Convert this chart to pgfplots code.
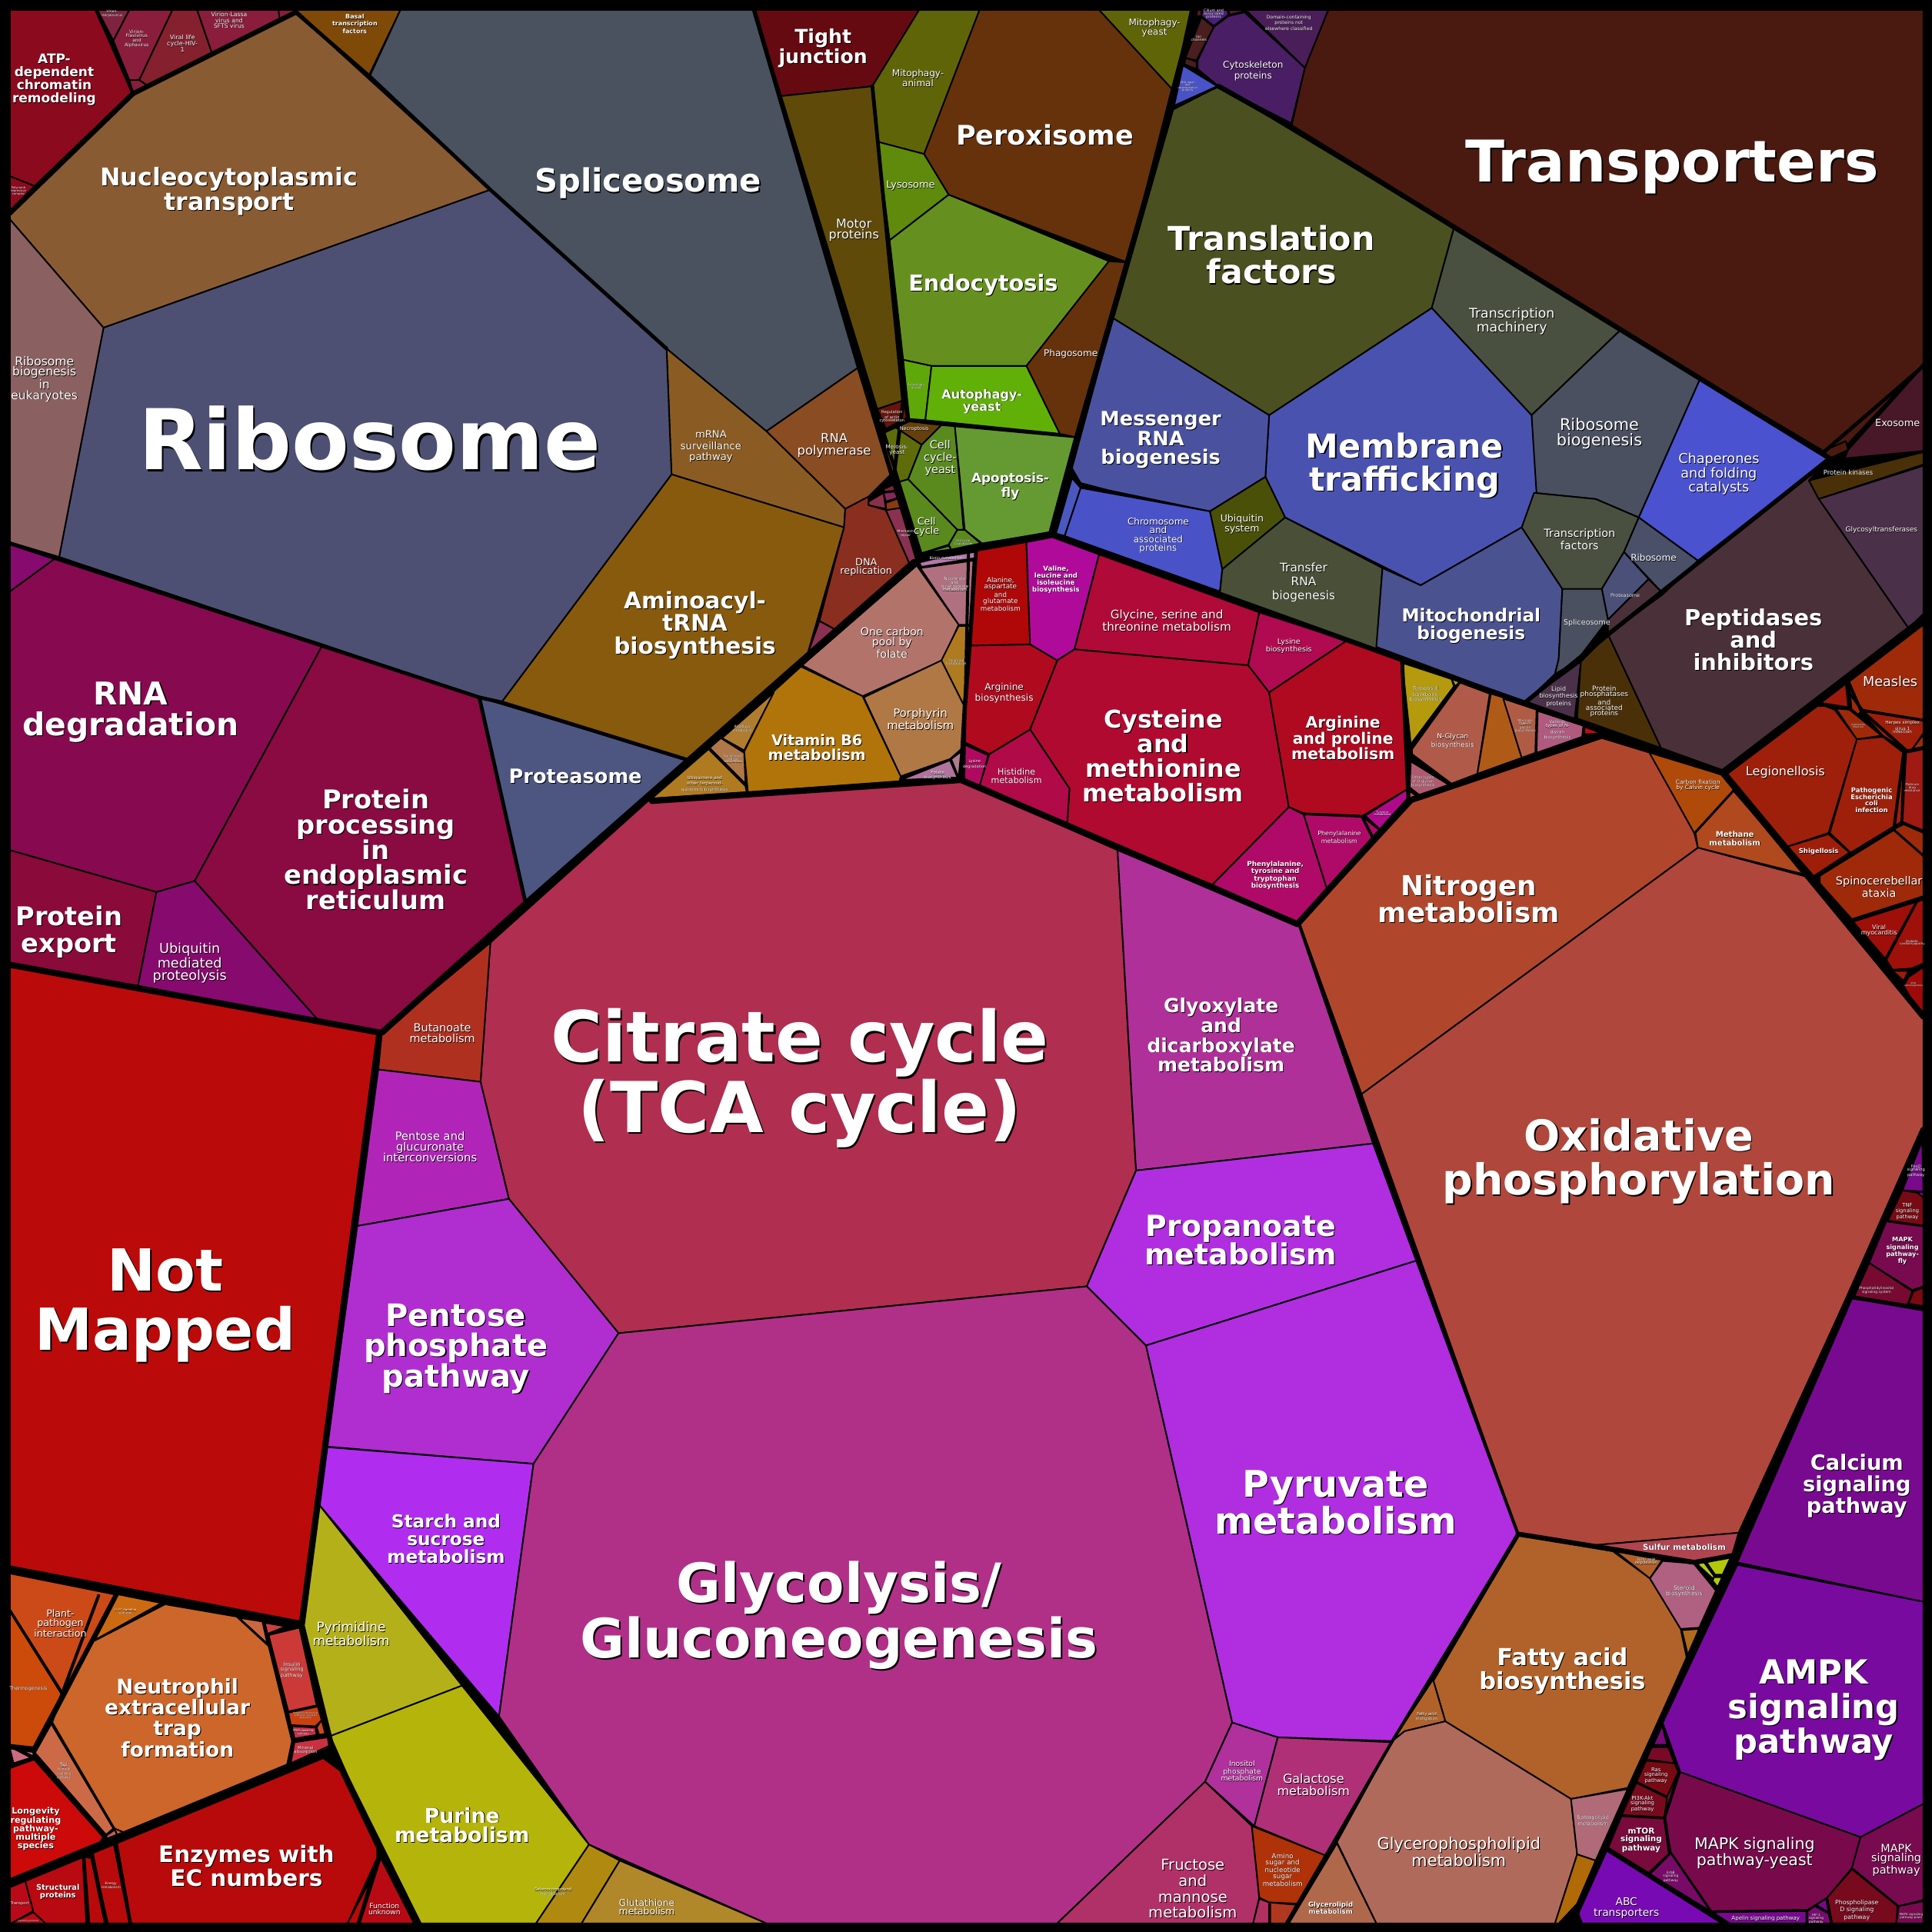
\documentclass[border=0pt]{standalone}
\usepackage{pgfplots}
\pgfplotsset{compat=1.18}
\usepackage{fontspec}
\setmainfont{DejaVu Sans}
\newcommand{\poly}[2]{\xglobal\definecolor{c#1}{HTML}{#1}\addplot[fill=c#1,draw=black,line width=1.2pt,line join=round,mark=none] coordinates {#2} -- cycle;}
\newcommand{\edge}[2]{\addplot[black,line width=#1pt,line join=round,line cap=round,mark=none] coordinates {#2};}
\newcommand{\lab}[5]{%
\node[align=center,inner sep=0pt,text=black,font=\fontsize{#3}{#4}\selectfont\bfseries] at (axis cs:#1,#2) [xshift={#3*0.02pt+0.25pt},yshift={-#3*0.09pt-0.25pt}] {#5};%
\node[align=center,inner sep=0pt,text=white,font=\fontsize{#3}{#4}\selectfont\bfseries] at (axis cs:#1,#2) [yshift={-#3*0.07pt}] {#5};}
\newcommand{\labr}[5]{%
\node[align=center,inner sep=0pt,text=black,font=\fontsize{#3}{#4}\selectfont] at (axis cs:#1,#2) [xshift={#3*0.05pt},yshift={-#3*0.12pt}] {#5};%
\node[align=center,inner sep=0pt,text=white,font=\fontsize{#3}{#4}\selectfont] at (axis cs:#1,#2) [yshift={-#3*0.07pt}] {#5};}
\begin{document}
\begin{tikzpicture}
\begin{axis}[width=1568pt,height=1568pt,scale only axis,hide axis,
  xmin=0,xmax=1568,ymin=0,ymax=1568,y dir=reverse]
\addplot[fill=black,draw=none,mark=none] coordinates {(0,0)(1568,0)(1568,1568)(0,1568)} -- cycle;
% top left
\poly{8C0A1E}{(8,8)(78,8)(108,74)(28,151)(8,143)}
\poly{8C0A1E}{(8,143)(28,151)(8,171)}
\poly{895B33}{(108,76)(240,10)(398,154)(84,266)(8,178)(8,173)}
\poly{7E2440}{(79,8)(105,8)(92,33)}
\poly{8A1D3C}{(105,8)(140,8)(113,65)(105,65)(92,33)}
\poly{85202F}{(140,8)(160,8)(172,43)(119,69)(113,65)}
\poly{8A1D3C}{(160,8)(226,8)(227,15)(172,43)}
\poly{8A1D3C}{(226,8)(239,8)(239,10)(227,15)}
\poly{85203C}{(105,65)(113,65)(119,69)(108,75)}
\poly{7F4A08}{(240,8)(325,8)(299,62)}
\poly{4A5260}{(300,62)(325,8)(612,8)(697,298)(622,350)(541,283)(398,154)}
\poly{8A4C22}{(697,298)(726,382)(705,403)(686,413)(622,350)}
\poly{8A5C23}{(541,283)(622,350)(686,413)(685,428)(545,385)}
\poly{875A0D}{(545,385)(685,428)(655,532)(559,617)(407,570)}
\poly{4D5073}{(84,266)(398,154)(541,283)(545,385)(407,570)(389,566)(48,452)}
\poly{8A6060}{(8,178)(84,266)(48,452)(8,440)}
\poly{4D5581}{(389,566)(559,617)(427,733)}
\poly{870A50}{(8,480)(45,453)(262,523)(158,715)(127,724)(8,690)}
\poly{870A6E}{(8,441)(45,453)(8,480)}
\poly{8A0A42}{(262,523)(389,566)(427,735)(310,838)(260,830)(158,715)}
\poly{8A0A3A}{(8,690)(127,724)(112,800)(8,783)}
\poly{870A6E}{(127,724)(158,715)(260,830)(112,800)}
\poly{8A2E20}{(685,428)(686,413)(705,403)(705,410)(719,414)(738,457)(678,511)(665,504)}
\poly{8A3050}{(665,504)(678,511)(655,532)}
\poly{8A3050}{(719,414)(731,412)(745,454)(738,457)}
\poly{7E2440}{(717,397)(726,393)(728,398)(718,399)}
\poly{86285A}{(717,400)(726,399)(729,404)(719,407)}
\poly{8A3A10}{(719,408)(731,404)(732,412)(719,414)}
\poly{8A3048}{(705,407)(717,400)(719,413)(705,410)}
% motor and green cluster
\poly{660A12}{(612,8)(746,8)(708,70)(634,78)}
\poly{5F4A0A}{(634,78)(708,70)(733,325)(712,332)}
\poly{66140C}{(712,332)(733,325)(736,339)(719,348)}
\poly{5F6408}{(746,8)(795,8)(750,125)(712,115)(708,70)}
\poly{5F8A0C}{(712,115)(750,125)(770,158)(722,195)}
\poly{65901F}{(722,195)(770,158)(900,212)(833,297)(756,297)(733,292)(730,265)}
\poly{66320C}{(795,8)(892,8)(951,72)(915,213)(770,158)(750,125)}
\poly{5F6408}{(892,8)(968,8)(951,72)}
\poly{66320C}{(900,212)(915,213)(874,355)(860,352)(833,297)}
\poly{5FA80A}{(733,292)(756,297)(751,341)(738,340)}
\poly{60B008}{(756,297)(833,297)(860,352)(751,341)}
\poly{66400C}{(727,347)(738,342)(764,345)(748,361)}
\poly{5F6C0A}{(718,351)(727,347)(748,361)(737,389)(730,391)}
\poly{5A8A1E}{(748,361)(764,345)(775,346)(782,430)(777,430)(737,389)}
\poly{659A33}{(775,346)(873,355)(853,432)(797,441)(783,430)}
\poly{5A8A1E}{(730,391)(737,389)(777,430)(770,442)(748,449)}
\poly{5A8A1E}{(777,430)(783,430)(796,441)(772,446)(770,442)}
\poly{5A8A1E}{(748,449)(770,443)(772,446)}
% vitamins
\poly{B478AC}{(745,455)(791,448)(791,453)(748,460)}
\poly{B07080}{(747,461)(790,455)(787,507)(778,507)}
\poly{B2736A}{(744,459)(778,507)(765,536)(700,565)(651,540)}
\poly{B0740A}{(650,541)(700,565)(731,630)(730,634)(607,643)(604,610)(628,561)}
\poly{B07C30}{(628,562)(604,609)(586,599)}
\poly{B07848}{(585,599)(604,611)(605,636)(576,607)}
\poly{B07A20}{(575,608)(605,638)(606,643)(529,648)}
\poly{B07A20}{(778,508)(787,508)(782,572)(764,536)}
\poly{B07844}{(701,566)(764,536)(782,572)(780,608)(771,616)(731,630)}
\poly{B2739E}{(731,633)(771,617)(777,631)}
\poly{B07C8C}{(772,616)(780,610)(778,631)}
% amino acids
\poly{B00808}{(793,447)(833,440)(836,523)(788,524)}
\poly{B00A9A}{(833,440)(854,436)(892,450)(872,527)(858,536)(836,523)}
\poly{B00A38}{(892,450)(1022,497)(1013,540)(872,527)}
\poly{B00A50}{(1022,497)(1093,520)(1030,562)(1013,540)}
\poly{B00A30}{(858,536)(872,527)(1013,540)(1030,562)(1046,655)(984,718)(905,686)(866,669)(868,640)(836,592)}
\poly{B00A20}{(1030,562)(1093,520)(1137,535)(1143,640)(1106,662)(1058,660)(1046,655)}
\poly{B00A8A}{(1108,662)(1143,640)(1142,650)(1121,674)}
\poly{B00A68}{(1058,661)(1105,663)(1114,681)(1077,722)}
\poly{B00A68}{(1106,663)(1120,674)(1115,680)}
\poly{B00A68}{(1046,655)(1058,661)(1077,722)(1053,749)(984,718)}
\poly{B00A48}{(803,612)(836,592)(868,640)(866,669)(795,637)}
\poly{B00A1E}{(788,524)(836,523)(858,536)(836,592)(803,612)(782,602)}
\poly{B00A60}{(782,604)(802,613)(795,638)(780,632)}
% glycans
\poly{B49A0C}{(1138,538)(1178,551)(1180,557)(1145,604)}
\poly{B49A0C}{(1178,551)(1185,553)(1181,557)}
\poly{B05A4A}{(1185,554)(1209,563)(1199,628)(1178,636)(1146,612)(1146,608)}
\poly{B05A18}{(1210,563)(1220,566)(1235,615)(1199,628)}
\poly{B05C44}{(1220,567)(1247,576)(1246,611)(1235,615)}
\poly{B05A80}{(1248,577)(1285,589)(1284,598)(1247,611)}
\poly{C00A14}{(1286,590)(1300,595)(1286,596)}
\poly{B05A70}{(1145,618)(1176,637)(1153,646)(1144,639)}
\poly{B05A30}{(1144,642)(1151,647)(1144,649)}
% energy
\poly{B0472C}{(1055,750)(1147,650)(1300,597)(1337,607)(1375,676)(1378,688)(1105,888)}
\poly{B04A0A}{(1337,608)(1398,629)(1407,641)(1375,676)}
\poly{B04A1E}{(1407,642)(1466,710)(1378,688)(1376,676)}
\poly{B0473C}{(1378,688)(1468,712)(1561,825)(1561,917)(1411,1244)(1294,1254)(1232,1245)(1105,888)}
\poly{B04450}{(1294,1254)(1411,1244)(1406,1261)(1375,1267)(1348,1264)(1311,1259)}
% lipids
\poly{B0622A}{(1233,1246)(1309,1259)(1339,1281)(1364,1322)(1369,1346)(1321,1451)(1275,1460)(1173,1397)(1163,1363)}
\poly{B06028}{(1311,1259)(1349,1266)(1339,1281)}
\poly{B06080}{(1350,1266)(1375,1269)(1393,1290)(1379,1321)(1364,1322)(1339,1281)}
\poly{B06A1E}{(1365,1323)(1379,1322)(1370,1344)}
\poly{B4C81E}{(1377,1269)(1383,1268)(1391,1279)(1391,1282)}
\poly{B4C80A}{(1385,1268)(1405,1263)(1398,1278)(1392,1278)}
\poly{B4C80A}{(1391,1280)(1398,1280)(1394,1288)(1390,1283)}
\poly{B0622A}{(1163,1363)(1173,1397)(1140,1405)(1130,1413)}
\poly{B06A5C}{(1140,1405)(1173,1397)(1275,1460)(1280,1505)(1262,1561)(1117,1561)(1085,1495)(1130,1413)}
\poly{B06A78}{(1275,1460)(1321,1452)(1295,1510)(1280,1505)}
\poly{B06A08}{(1280,1505)(1295,1510)(1280,1545)(1265,1561)(1262,1561)}
\poly{B0684A}{(1085,1496)(1117,1561)(1046,1561)}
% carbohydrate
\poly{B02E50}{(398,765)(526,650)(778,633)(907,690)(922,950)(882,1044)(502,1082)(413,973)(390,878)}
\poly{B03020}{(398,765)(390,878)(307,868)(310,838)}
\poly{B025B8}{(307,868)(390,878)(413,973)(290,995)}
\poly{B02DD0}{(290,995)(413,973)(502,1082)(433,1188)(265,1174)}
\poly{B02DF0}{(260,1174)(433,1188)(405,1393)(258,1220)}
\poly{B0309A}{(907,690)(1055,752)(1115,928)(922,950)}
\poly{B02EE0}{(1115,928)(1150,1023)(930,1092)(882,1044)(922,950)}
\poly{B02DE0}{(930,1092)(1150,1023)(1232,1245)(1130,1413)(1037,1410)(1000,1398)}
\poly{B03088}{(502,1082)(882,1044)(930,1092)(1000,1398)(978,1446)(858,1561)(622,1561)(478,1497)(405,1393)(433,1188)}
\poly{B4B01A}{(258,1220)(375,1368)(268,1409)(246,1320)}
\poly{B4B40A}{(268,1409)(375,1368)(478,1497)(435,1561)(340,1561)(308,1500)}
\poly{B08A10}{(478,1497)(503,1510)(472,1561)(435,1561)}
\poly{B0882A}{(503,1510)(622,1561)(472,1561)}
\poly{B0309C}{(1000,1398)(1037,1410)(1018,1482)(978,1446)}
\poly{B03078}{(1037,1410)(1130,1414)(1076,1506)(1018,1482)}
\poly{B03068}{(978,1446)(1016,1482)(1022,1540)(1017,1561)(858,1561)}
\poly{B03208}{(1016,1482)(1076,1506)(1054,1545)(1030,1544)(1022,1540)}
\poly{B03060}{(1022,1541)(1030,1544)(1030,1561)(1017,1561)}
\poly{B03820}{(1031,1544)(1053,1546)(1045,1561)(1031,1561)}
% right reds
\poly{9E200A}{(1402,628)(1475,573)(1481,573)(1489,576)(1507,600)(1484,676)(1451,687)}
\poly{9E1A0A}{(1477,571)(1498,555)(1500,574)}
\poly{9E2A0A}{(1501,553)(1561,507)(1561,584)(1512,576)(1501,562)}
\poly{9E2A0A}{(1501,563)(1511,577)(1508,580)(1502,575)}
\poly{9E1E0A}{(1510,577)(1561,585)(1561,595)(1552,608)(1547,609)(1528,597)}
\poly{9E2A0A}{(1552,608)(1561,596)(1561,606)}
\poly{9E2A0A}{(1490,575)(1501,576)(1527,597)(1507,600)}
\poly{9E200A}{(1507,600)(1528,598)(1545,611)(1543,667)(1502,692)(1485,676)}
\poly{9E1E0A}{(1451,687)(1484,677)(1501,692)(1472,711)}
\poly{9E1A12}{(1547,611)(1561,608)(1561,674)(1544,667)}
\poly{9E2A0A}{(1545,669)(1561,676)(1561,694)(1537,673)}
\poly{9E2A0A}{(1477,710)(1536,673)(1561,695)(1561,728)(1503,746)(1477,717)}
\poly{9E0F0A}{(1504,748)(1555,732)(1530,778)}
\poly{9E100A}{(1556,732)(1561,730)(1561,782)(1551,786)(1536,787)(1531,779)}
\poly{9E1A0A}{(1536,788)(1549,788)(1545,796)}
\poly{9E0A0A}{(1549,793)(1561,785)(1561,825)(1552,812)(1545,800)}
% top right
\poly{4A1A10}{(1078,8)(1561,8)(1561,295)(1500,360)(1480,366)(1315,268)(1180,185)(1048,103)(1059,55)}
\poly{481828}{(1500,365)(1561,297)(1561,366)(1497,372)}
\poly{4A1A10}{(1480,366)(1498,358)(1500,365)(1485,372)}
\poly{4A3008}{(1468,390)(1561,367)(1561,377)(1476,405)}
\poly{4A3048}{(1476,405)(1561,378)(1561,498)(1549,510)}
\poly{4A3038}{(1305,515)(1378,455)(1485,372)(1468,390)(1476,405)(1549,510)(1398,625)(1348,607)}
\poly{4A5020}{(950,90)(989,70)(1180,185)(1162,250)(1030,337)(903,258)(915,213)}
\poly{4A5040}{(1180,185)(1315,268)(1243,337)(1162,250)}
\poly{4A5060}{(1243,337)(1315,268)(1380,307)(1330,420)(1295,405)(1245,400)}
\poly{4A52D0}{(1380,307)(1485,372)(1378,455)(1330,420)}
\poly{4A52B0}{(1030,337)(1162,250)(1243,337)(1247,400)(1235,428)(1153,475)(1043,420)(1027,387)}
\poly{4A52A0}{(903,258)(1030,337)(1027,387)(982,415)(900,398)(877,392)(870,380)}
\poly{4A52C8}{(877,396)(982,415)(992,462)(990,480)(864,435)}
\poly{4A58C0}{(870,388)(877,396)(864,435)(857,433)}
\poly{4A5008}{(982,415)(1027,387)(1043,420)(992,462)}
\poly{4A5038}{(992,462)(1043,420)(1122,461)(1117,527)(990,482)}
\poly{4A5290}{(1122,461)(1153,475)(1235,428)(1268,478)(1265,535)(1262,547)(1238,570)(1117,525)}
\poly{4A5040}{(1235,428)(1245,400)(1295,405)(1330,420)(1318,448)(1300,478)(1268,478)}
\poly{4A5068}{(1318,448)(1330,420)(1378,455)(1350,482)}
\poly{4A5078}{(1300,478)(1318,448)(1338,470)(1305,503)}
\poly{4A5060}{(1268,478)(1300,478)(1305,503)(1279,537)(1262,547)(1265,535)}
\poly{4A3038}{(1305,503)(1338,470)(1350,482)(1305,515)}
\poly{4A3048}{(1239,569)(1283,537)(1278,583)(1248,576)}
\poly{4A3008}{(1283,537)(1305,515)(1348,607)(1280,583)}
% top centre
\poly{4A1E64}{(1010,10)(1059,55)(1048,100)(989,70)(972,56)(972,49)(985,22)(997,13)}
\poly{4A1E58}{(1011,8)(1078,8)(1059,55)}
\poly{4A1E1E}{(975,14)(985,22)(971,49)(962,47)}
\poly{4A1E7A}{(976,8)(996,8)(997,12)(985,21)(975,13)}
\poly{4A1E38}{(997,8)(1010,8)(1010,9)(998,12)}
\poly{4A1E1E}{(971,8)(975,8)(975,13)(971,13)}
\poly{4A1E1E}{(962,47)(971,50)(971,56)(961,52)}
\poly{4A52C8}{(960,53)(988,70)(951,87)}
% bottom left
\poly{BB0A0A}{(8,783)(308,838)(245,1318)(8,1273)}
\poly{CC4A18}{(8,1277)(93,1294)(51,1374)(8,1306)}
\poly{CC6A12}{(96,1294)(131,1301)(77,1331)}
\poly{CC4A0A}{(8,1308)(50,1375)(27,1418)(8,1416)}
\poly{CC662A}{(134,1302)(192,1312)(218,1336)(237,1413)(233,1432)(100,1487)(93,1484)(42,1397)(76,1332)}
\poly{CC6A48}{(41,1398)(92,1484)(86,1489)(28,1422)}
\poly{CC6640}{(194,1313)(213,1316)(217,1334)}
\poly{CC4040}{(215,1317)(232,1320)(217,1326)}
\poly{CC3A38}{(218,1327)(243,1321)(257,1384)(234,1389)}
\poly{CC4010}{(234,1390)(258,1385)(261,1396)(256,1401)(236,1400)}
\poly{CC3048}{(237,1401)(256,1402)(257,1408)(239,1411)}
\poly{CC4A20}{(257,1402)(261,1396)(264,1407)(259,1408)}
\poly{CC3040}{(239,1414)(266,1410)(267,1417)(236,1431)}
\poly{CC6A80}{(8,1419)(27,1422)(27,1426)(11,1431)}
\poly{CC0A0A}{(8,1435)(28,1427)(84,1491)(81,1495)(8,1525)}
\poly{CC5A50}{(86,1490)(93,1485)(95,1489)(87,1492)}
\poly{CC6A12}{(93,1484)(100,1487)(95,1489)}
\poly{B80A0A}{(92,1494)(261,1426)(276,1437)(306,1500)(306,1508)(282,1561)(106,1561)}
\poly{B80A14}{(309,1508)(336,1561)(292,1561)}
\poly{B80A0A}{(301,1525)(290,1561)(282,1561)}
\poly{B80A0A}{(75,1502)(92,1495)(105,1561)(87,1561)}
\poly{B80A0A}{(68,1507)(74,1508)(85,1561)(72,1561)}
\poly{B80A10}{(20,1525)(67,1506)(70,1561)(37,1561)(27,1552)}
\poly{B80A18}{(8,1528)(20,1525)(27,1551)(9,1561)(8,1561)}
\poly{B80A18}{(27,1552)(37,1561)(9,1561)}
% right side pathways
\poly{780A8A}{(1560,926)(1561,967)(1544,966)}
\poly{780A8A}{(1556,968)(1561,967)(1561,972)}
\poly{780A14}{(1544,966)(1556,968)(1561,972)(1561,995)(1532,991)}
\poly{780A50}{(1531,991)(1561,995)(1561,1044)(1552,1047)(1517,1025)}
\poly{780A32}{(1517,1025)(1552,1048)(1548,1059)(1505,1052)}
\poly{780A10}{(1553,1048)(1561,1045)(1561,1060)(1549,1058)}
\poly{780A90}{(1503,1054)(1548,1060)(1561,1063)(1561,1300)(1410,1268)}
\poly{780AA0}{(1410,1270)(1561,1300)(1561,1464)(1510,1491)(1363,1438)(1349,1399)}
\poly{780A7A}{(1349,1400)(1353,1416)(1342,1416)}
\poly{780A28}{(1340,1418)(1354,1418)(1359,1431)(1336,1428)}
\poly{780A14}{(1336,1429)(1359,1431)(1362,1438)(1353,1458)(1328,1446)}
\poly{780A1E}{(1328,1447)(1353,1459)(1351,1475)(1316,1473)}
\poly{780A3C}{(1316,1474)(1351,1476)(1355,1504)(1338,1520)(1305,1500)}
\poly{780A4C}{(1363,1438)(1510,1491)(1503,1516)(1483,1540)(1467,1550)(1389,1551)(1356,1503)(1351,1475)(1353,1458)}
\poly{780A50}{(1510,1491)(1561,1464)(1561,1542)(1541,1547)(1503,1516)}
\poly{780A1E}{(1503,1517)(1540,1547)(1539,1561)(1487,1561)(1483,1540)}
\poly{780A50}{(1541,1547)(1561,1543)(1561,1561)(1539,1561)}
\poly{780A8A}{(1482,1541)(1484,1552)(1474,1546)}
\poly{780A70}{(1467,1551)(1473,1547)(1484,1553)(1486,1561)(1467,1561)}
\poly{780A90}{(1390,1552)(1466,1551)(1466,1561)(1404,1561)}
\poly{780A68}{(1356,1504)(1388,1551)(1339,1521)}
\poly{780AB4}{(1304,1502)(1400,1561)(1284,1561)(1281,1553)}
% group outlines
\edge{4}{(8,173)(108,76)(240,10)}
\edge{3}{(240,10)(300,62)(398,154)(541,283)}
\edge{2.5}{(78,8)(108,76)}
\edge{3.5}{(612,8)(697,298)(745,455)}
\edge{3}{(726,382)(733,325)(708,70)}
\edge{4.5}{(968,8)(951,87)(915,213)(874,355)(853,433)}
\edge{4}{(742,456)(797,443)(853,433)(1145,538)(1398,627)}
\edge{5}{(742,456)(559,617)(427,733)(310,838)}
\edge{3}{(8,441)(389,566)(427,735)}
\edge{3}{(559,617)(407,570)(389,566)}
\edge{5}{(529,650)(780,633)(1053,750)(1143,650)(1300,597)(1398,627)}
\edge{2.5}{(786,450)(782,632)}
\edge{3}{(1138,536)(1143,650)}
\edge{5}{(308,838)(8,783)}
\edge{5}{(308,838)(245,1318)(8,1273)}
\edge{4}{(245,1318)(270,1420)(340,1561)}
\edge{4.5}{(8,1530)(270,1422)}
\edge{3}{(8,1434)(28,1427)(9,1417)}
\edge{3}{(85,1491)(28,1427)}
\edge{2.5}{(94,1494)(106,1561)}
\edge{2.5}{(68,1506)(72,1561)}
\edge{2.5}{(74,1505)(87,1561)}
\edge{2.5}{(80,1295)(42,1397)(28,1422)}
\edge{5}{(1398,627)(1561,502)}
\edge{5}{(1398,627)(1561,825)}
\edge{5}{(1561,917)(1275,1561)}
\edge{4}{(1232,1245)(1375,1268)(1410,1262)}
\edge{3}{(1232,1245)(1163,1363)}
\edge{2.5}{(1232,1245)(1130,1413)(1044,1561)}
\edge{2.5}{(1232,1245)(1150,1023)(1115,928)(1055,752)}
\edge{2}{(951,87)(989,70)}
\edge{4}{(989,70)(1048,103)(1485,372)}
\edge{3.5}{(1485,372)(1305,515)(1238,570)}
\edge{3}{(1480,367)(1561,297)}
\edge{4}{(1305,1501)(1400,1561)}
\edge{2.5}{(1349,1399)(1363,1438)(1351,1475)(1355,1504)}
\edge{3}{(1350,1266)(1375,1268)(1393,1290)}
\edge{2.5}{(1503,1053)(1561,1063)}
\edge{2}{(1532,991)(1561,995)}
\edge{2.5}{(1505,746)(1561,728)}
\edge{2.5}{(1477,710)(1537,673)(1545,611)(1547,609)(1510,576)(1500,553)(1502,575)(1477,571)}
\edge{3}{(971,8)(960,53)}
% labels
\lab{300}{351}{68}{68}{Ribosome}
\lab{649}{871}{57}{57}{Citrate cycle\\(TCA cycle)}
\lab{1357}{132}{46.7}{46.7}{Transporters}
\lab{134}{1056}{47}{48}{Not\\Mapped}
\lab{681}{1308}{44}{45}{Glycolysis/\\Gluconeogenesis}
\lab{1330}{940}{34.6}{36}{Oxidative\\phosphorylation}
\lab{1084}{1217}{29.7}{30}{Pyruvate\\metabolism}
\lab{370}{1093}{25}{24}{Pentose\\phosphate\\pathway}
\lab{362}{1248}{14.5}{14.5}{Starch and\\sucrose\\metabolism}
\lab{1007}{1005}{23.6}{23}{Propanoate\\metabolism}
\lab{991}{839}{15.6}{16}{Glyoxylate\\and\\dicarboxylate\\metabolism}
\lab{1192}{728}{22.3}{22}{Nitrogen\\metabolism}
\lab{944}{612}{19.8}{20}{Cysteine\\and\\methionine\\metabolism}
\lab{1090}{598}{12.7}{13}{Arginine\\and proline\\metabolism}
\labr{359}{838}{9}{9}{Butanoate\\metabolism}
\labr{349}{930}{9.2}{9}{Pentose and\\glucuronate\\interconversions}
\labr{947}{503}{9.5}{8}{Glycine, serine and\\threonine metabolism}
\lab{305}{688}{21}{20.5}{Protein\\processing\\in\\endoplasmic\\reticulum}
\lab{106}{576}{25.5}{25}{RNA\\degradation}
\lab{56}{755}{21}{22}{Protein\\export}
\labr{154}{781}{11}{10}{Ubiquitin\\mediated\\proteolysis}
\lab{467}{629}{16}{17}{Proteasome}
\lab{526}{147}{26}{26}{Spliceosome}
\lab{186}{154}{19.8}{20}{Nucleocytoplasmic\\transport}
\lab{44}{64}{10.6}{10.7}{ATP-\\dependent\\chromatin\\remodeling}
\labr{36}{307}{9.7}{8.5}{Ribosome\\biogenesis\\in\\eukaryotes}
\lab{564}{506}{18.5}{18.5}{Aminoacyl-\\tRNA\\biosynthesis}
\labr{577}{362}{8.2}{9}{mRNA\\surveillance\\pathway}
\labr{677}{361}{10.2}{10}{RNA\\polymerase}
\labr{703}{460}{8}{7}{DNA\\replication}
\lab{668}{38}{15.7}{15}{Tight\\junction}
\labr{693}{186}{10}{9}{Motor\\proteins}
\labr{745}{63}{7.5}{7}{Mitophagy-\\animal}
\labr{739}{150}{8}{8}{Lysosome}
\lab{848}{108}{21.9}{22}{Peroxisome}
\labr{937}{22}{7.5}{7}{Mitophagy-\\yeast}
\lab{798}{230}{18}{18}{Endocytosis}
\labr{869}{287}{7.5}{7.5}{Phagosome}
\lab{797}{325}{10}{10}{Autophagy-\\yeast}
\lab{820}{394}{10.5}{12}{Apoptosis-\\fly}
\labr{763}{371}{9}{10}{Cell\\cycle-\\yeast}
\labr{752}{427}{8}{7.5}{Cell\\cycle}
\labr{728}{365}{4.5}{4.5}{Meiosis-\\yeast}
\labr{742}{348}{4}{4}{Necroptosis}
\labr{724}{338}{3.2}{3}{Regulation\\of actin\\cytoskeleton}
\lab{1032}{205}{26.7}{27}{Translation\\factors}
\labr{1227}{260}{10.8}{10}{Transcription\\machinery}
\labr{1298}{351}{13}{13}{Ribosome\\biogenesis}
\labr{1395}{384}{11}{10.5}{Chaperones\\and folding\\catalysts}
\lab{1140}{376}{26.8}{27}{Membrane\\trafficking}
\lab{942}{356}{16}{15}{Messenger\\RNA\\biogenesis}
\labr{940}{434}{7.5}{7}{Chromosome\\and\\associated\\proteins}
\labr{1008}{425}{7.8}{8}{Ubiquitin\\system}
\labr{1058}{472}{9.6}{11}{Transfer\\RNA\\biogenesis}
\lab{1194}{507}{14.5}{14}{Mitochondrial\\biogenesis}
\labr{1282}{437}{9}{8}{Transcription\\factors}
\labr{1342}{452}{7.5}{7.5}{Ribosome}
\labr{1319}{483}{4}{4}{Proteasome}
\labr{1288}{505}{6}{6}{Spliceosome}
\lab{1423}{518}{18}{18}{Peptidases\\and\\inhibitors}
\labr{1265}{565}{5}{4.5}{Lipid\\biosynthesis\\proteins}
\labr{1302}{569}{5.6}{4.6}{Protein\\phosphatases\\and\\associated\\proteins}
\labr{1527}{430}{5.6}{5.6}{Glycosyltransferases}
\labr{1500}{383}{5.3}{5.3}{Protein kinases}
\labr{1540}{343}{8}{8}{Exosome}
\labr{1534}{552}{11}{11}{Measles}
\labr{1449}{626}{10}{10}{Legionellosis}
\lab{1519}{649}{5.3}{5.6}{Pathogenic\\Escherichia\\coli\\infection}
\lab{1476}{691}{5.3}{5.3}{Shigellosis}
\labr{1525}{719}{9}{7}{Spinocerebellar\\ataxia}
\labr{1525}{755}{5}{4.5}{Viral\\myocarditis}
\labr{1378}{637}{4.7}{4.6}{Carbon fixation\\by Calvin cycle}
\lab{1408}{680}{6.3}{6.8}{Methane\\metabolism}
\labr{1544}{590}{3.6}{2.8}{Herpes simplex\\virus 1\\infection}
\labr{1508}{589}{2}{2}{Salmonella\\infection}
\labr{1552}{639}{2.5}{2.5}{Platinum\\drug\\resistance}
\labr{1552}{765}{2.5}{2}{Diabetic\\cardiomyopathy}
\labr{1553}{799}{2}{2}{Viral\\carcinogenesis}
\labr{1179}{601}{5.6}{5}{N-Glycan\\biosynthesis}
\labr{1157}{563}{4.2}{3.6}{Terpenoid\\backbone\\biosynthesis}
\labr{1238}{589}{2.7}{2.7}{Mannose\\type O-\\glycan\\biosynthesis}
\labr{1264}{592}{3.5}{3.3}{Various\\types of N-\\glycan\\biosynthesis}
\labr{1155}{634}{3}{3}{Other types\\of O-glycan\\biosynthesis}
\labr{812}{482}{5.5}{5.2}{Alanine,\\aspartate\\and\\glutamate\\metabolism}
\lab{857}{470}{5.4}{5.5}{Valine,\\leucine and\\isoleucine\\biosynthesis}
\labr{815}{562}{7.6}{7}{Arginine\\biosynthesis}
\labr{1046}{524}{6}{6}{Lysine\\biosynthesis}
\labr{825}{629}{7}{7}{Histidine\\metabolism}
\lab{1035}{710}{5.5}{5.8}{Phenylalanine,\\tyrosine and\\tryptophan\\biosynthesis}
\labr{1087}{679}{5}{4.8}{Phenylalanine\\metabolism}
\labr{1122}{660}{2.3}{2.3}{Tyrosine\\metabolism}
\labr{724}{521}{8.8}{8.3}{One carbon\\pool by\\folate}
\lab{663}{606}{12}{12}{Vitamin B6\\metabolism}
\labr{747}{583}{9.2}{8}{Porphyrin\\metabolism}
\labr{775}{474}{3.4}{3}{Nicotinate\\and\\nicotinamide\\metabolism}
\labr{776}{537}{2.8}{2.8}{Thiamine\\metabolism}
\labr{603}{591}{2.8}{2.8}{Riboflavin\\metabolism}
\labr{595}{616}{2.3}{2.3}{Pantothenate\\and CoA\\biosynthesis}
\labr{572}{636}{3.6}{3.2}{Ubiquinone and\\other terpenoid-\\quinone biosynthesis}
\labr{761}{629}{3.5}{3.4}{Folate\\biosynthesis}
\labr{768}{453}{3}{3}{Biotin metabolism}
\labr{735}{433}{2.8}{2.8}{Mismatch\\repair}
\labr{791}{620}{3.1}{3}{Lysine\\degradation}
\labr{744}{313}{2.5}{2.5}{Autophagy-\\animal}
\labr{782}{440}{2.5}{2.5}{Cell cycle-\\Caulobacter}
\labr{1008}{1437}{5.8}{6}{Inositol\\phosphate\\metabolism}
\labr{1066}{1448}{10}{10}{Galactose\\metabolism}
\labr{968}{1532}{12.2}{13}{Fructose\\and\\mannose\\metabolism}
\labr{1041}{1517}{5.5}{4.9}{Amino\\sugar and\\nucleotide\\sugar\\metabolism}
\labr{1184}{1502}{13}{12}{Glycerophospholipid\\metabolism}
\lab{1080}{1548}{5.4}{5.4}{Glycerolipid\\metabolism}
\lab{1268}{1355}{19}{19}{Fatty acid\\biosynthesis}
\labr{1158}{1393}{3.3}{3.3}{Fatty acid\\elongation}
\labr{1293}{1477}{4.2}{3.8}{Sphingolipid\\metabolism}
\labr{1367}{1291}{4.8}{4.6}{Steroid\\biosynthesis}
\lab{1367}{1255}{6.5}{6.5}{Sulfur metabolism}
\labr{1336}{1267}{3}{3}{Fatty acid\\degradation}
\lab{1507}{1205}{17}{17.5}{Calcium\\signaling\\pathway}
\lab{1472}{1386}{27}{28}{AMPK\\signaling\\pathway}
\labr{1424}{1503}{12.8}{11}{MAPK signaling\\pathway-yeast}
\labr{1539}{1509}{9}{8}{MAPK\\signaling\\pathway}
\labr{1507}{1550}{4.9}{4.5}{Phospholipase\\D signaling\\pathway}
\labr{1551}{1555}{2.5}{2.5}{MAPK signaling\\pathway-plant}
\labr{1433}{1557}{4.4}{4.4}{Apelin signaling pathway}
\labr{1474}{1557}{2.7}{2.7}{HIF-1\\signaling\\pathway}
\labr{1320}{1548}{8.6}{8.7}{ABC\\transporters}
\labr{1356}{1523}{2.8}{2.6}{ErbB\\signaling\\pathway}
\lab{1332}{1493}{6.5}{6.3}{mTOR\\signaling\\pathway}
\labr{1333}{1464}{4.3}{3.8}{PI3K-Akt\\signaling\\pathway}
\labr{1344}{1441}{4.2}{3.8}{Ras\\signaling\\pathway}
\labr{1555}{950}{3.2}{3}{FoxO\\signaling\\pathway}
\labr{1548}{983}{4.2}{3.8}{TNF\\signaling\\pathway}
\lab{1544}{1015}{5.1}{5.8}{MAPK\\signaling\\pathway-\\fly}
\labr{1523}{1047}{2.8}{2.8}{Phosphatidylinositol\\signaling system}
\lab{144}{1393}{16.5}{17}{Neutrophil\\extracellular\\trap\\formation}
\labr{49}{1317}{7.9}{7.5}{Plant-\\pathogen\\interaction}
\labr{102}{1308}{2.4}{2.4}{IL-17 signaling\\pathway}
\labr{23}{1370}{4}{4}{Thermogenesis}
\labr{52}{1437}{2.6}{2.2}{RIG-I-\\like\\receptor\\signaling\\pathway}
\labr{237}{1355}{4.2}{3.8}{Insulin\\signaling\\pathway}
\labr{248}{1420}{3.5}{3.5}{Mineral\\absorption}
\labr{246}{1406}{2.2}{2.2}{PPAR signaling\\pathway}
\labr{248}{1392}{1.9}{1.9}{Parathyroid hormone\\synthesis, secretion\\and action}
\lab{29}{1484}{7}{7}{Longevity\\regulating\\pathway-\\multiple\\species}
\lab{200}{1513}{18.4}{19}{Enzymes with\\EC numbers}
\lab{47}{1535}{6.2}{6.5}{Structural\\proteins}
\labr{312}{1549}{5.7}{5}{Function\\unknown}
\labr{16}{1545}{3.2}{3.2}{Transport}
\labr{90}{1530}{2.7}{2.7}{Energy\\metabolism}
\labr{23}{1559}{1.9}{1.9}{Signaling proteins}
\labr{285}{1325}{10.6}{10}{Pyrimidine\\metabolism}
\lab{375}{1480}{16.6}{16}{Purine\\metabolism}
\labr{449}{1535}{3.5}{3.5}{Selenocompound\\metabolism}
\labr{525}{1547}{7.7}{7}{Glutathione\\metabolism}
\lab{288}{19}{5}{5.8}{Basal\\transcription\\factors}
\labr{148}{35}{5}{5}{Viral life\\cycle-HIV-\\1}
\labr{186}{16}{4.8}{4.7}{Virion-Lassa\\virus and\\SFTS virus}
\labr{111}{31}{3.7}{3.5}{Virion-\\Flavivirus\\and\\Alphavirus}
\labr{91}{11}{2.8}{2.8}{Virion-\\Herpesvirus}
\labr{15}{155}{2.4}{2.4}{Polycomb\\repressive\\complex}
\labr{1017}{57}{7.5}{7}{Cytoskeleton\\proteins}
\labr{1046}{18}{3.8}{3.3}{Domain-containing\\proteins not\\elsewhere classified}
\labr{985}{11}{3}{2.6}{Cilium and\\associated\\proteins}
\labr{973}{31}{2.8}{2.8}{Ion\\channels}
\labr{964}{70}{2.2}{2.2}{DNA repair\\and\\recombination\\proteins}
\end{axis}
\end{tikzpicture}
\end{document}
